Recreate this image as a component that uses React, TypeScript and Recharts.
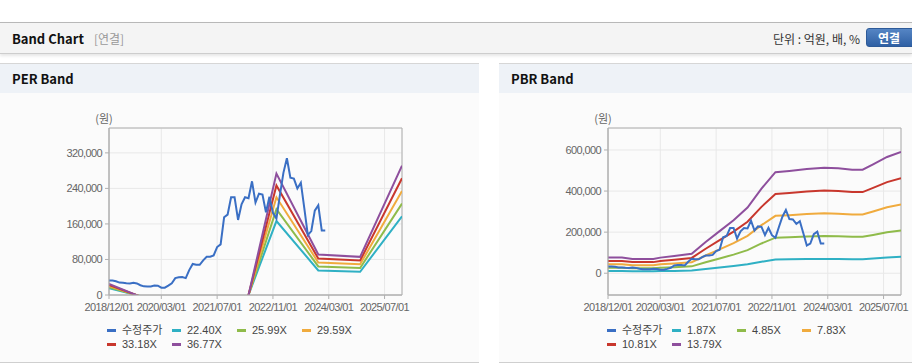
import React from 'react';
import { LineChart, Line, XAxis, YAxis, CartesianGrid, ReferenceArea } from 'recharts';

// ---------- data ----------
const priceStart = '2018/12';
const priceValues = [
  32600, 32600, 31000, 28000, 27400, 26500, 26000, 27500, 26000, 22000,
  19500, 19300, 19300, 21500, 21000, 16500, 16500, 21000, 26500, 38000,
  40000, 40500, 38000, 56000, 70000, 68000, 68000, 78000, 86000, 86000,
  89000, 108000, 114000, 175000, 181000, 220000, 220000, 169000, 204000, 220000,
  218000, 256000, 208000, 228000, 226000, 186000, 221000, 185000, 172000, 225000,
  275000, 308000, 264000, 262000, 240000, 253000, 195000, 135000, 144000, 190000,
  202000, 145000, 145000,
];

const perBandMonths = ['2018/12', '2019/12', '2020/12', '2021/12', '2022/12', '2023/12', '2024/12', '2025/12'];
const perLabels = ['22.40X', '25.99X', '29.59X', '33.18X', '36.77X'];
const per2240 = [15300, -8300, -33600, -83200, 166500, 55400, 52300, 177300];
const per2599 = [17800, -9600, -39000, -96600, 193200, 64300, 60700, 205800];
const per2959 = [20300, -10900, -44400, -110000, 219900, 73200, 69100, 234300];
const per3318 = [22700, -12300, -49800, -123300, 246600, 82100, 77500, 262700];
const per3677 = [25200, -13600, -55200, -136600, 273300, 91000, 85900, 291100];

const pbrBandMonths = [
  '2018/12', '2019/04', '2019/07', '2020/01', '2020/03', '2020/07', '2020/12', '2021/04',
  '2021/08', '2021/12', '2022/04', '2022/08', '2022/12', '2023/04', '2023/09', '2024/02',
  '2024/06', '2024/10', '2025/01', '2025/04', '2025/08', '2025/12',
];
const pbrLabels = ['1.87X', '4.85X', '7.83X', '10.81X', '13.79X'];
const pbr187 = [10300, 10300, 9400, 9400, 10300, 11400, 12900, 20600, 27800, 35000, 43400, 55900, 66700, 67500, 68700, 69700, 69300, 68300, 68300, 71900, 76800, 80000];
const pbr485 = [26700, 26700, 24300, 24300, 26700, 29500, 33400, 53500, 72100, 90700, 112500, 144900, 173000, 175100, 178300, 180800, 179700, 177300, 177300, 186400, 199100, 207500];
const pbr783 = [43200, 43200, 39200, 39200, 43200, 47700, 53900, 86300, 116400, 146500, 181700, 233900, 279400, 282800, 287900, 291800, 290100, 286200, 286200, 300900, 321400, 335000];
const pbr1081 = [59600, 59600, 54100, 54100, 59600, 65800, 74500, 119200, 160700, 202300, 250800, 323000, 385700, 390400, 397400, 402900, 400600, 395100, 395100, 415500, 443700, 462500];
const pbr1379 = [76000, 76000, 69000, 69000, 76000, 84000, 95000, 152000, 205000, 258000, 320000, 412000, 492000, 498000, 507000, 514000, 511000, 504000, 504000, 530000, 566000, 590000];

const xTickDates = ['2018/12/01', '2020/03/01', '2021/07/01', '2022/11/01', '2024/03/01', '2025/07/01'];
const perYTicks = [0, 80000, 160000, 240000, 320000];
const pbrYTicks = [0, 200000, 400000, 600000];
const perYDomain = [0, 376000];
const pbrYDomain = [-106000, 707000];

const priceLabel = '수정주가';
const colors = ['#3a6fc4', '#2fb0c4', '#8fbb4a', '#f0ab3e', '#c8372d', '#8e4f9d'];

// ---------- helpers ----------
const toIndex = (s: string) => {
  const [y, m] = s.split('/').map((t) => parseInt(t, 10));
  return (y - 2018) * 12 + (m - 12);
};
const fromIndex = (i: number) => {
  const y = 2018 + Math.floor((i + 11) / 12);
  const m = ((i + 11) % 12) + 1;
  return `${y}/${m < 10 ? '0' + m : m}/01`;
};
const xTicks = xTickDates.map((d) => toIndex(d.slice(0, 7)));
const fmtNum = (v: number) => String(v).replace(/\B(?=(\d{3})+(?!\d))/g, ',');

const priceData = priceValues.map((v, i) => ({ m: toIndex(priceStart) + i, v }));
const mkSeries = (months: string[], vals: number[]) => months.map((d, i) => ({ m: toIndex(d), v: vals[i] }));

const perSeries = [per2240, per2599, per2959, per3318, per3677].map((a) => mkSeries(perBandMonths, a));
const pbrSeries = [pbr187, pbr485, pbr783, pbr1081, pbr1379].map((a) => mkSeries(pbrBandMonths, a));

const tickFont = "'Liberation Sans', Arial, sans-serif";
const uiFont = "'Noto Sans CJK KR', 'Noto Sans', sans-serif";
const tickStyle = { fontSize: 11, fill: '#666', fontFamily: tickFont, letterSpacing: '-0.6px' };

function Band({ left, series, yDomain, yTicks }: any) {
  return (
    <div style={{ position: 'absolute', left, top: 100 }}>
      <LineChart width={431} height={215} margin={{ top: 28, right: 29, bottom: 0, left: 49 }}>
        <CartesianGrid stroke="#e8e8e8" strokeWidth={1} />
        <XAxis
          type="number"
          dataKey="m"
          domain={[0, 84]}
          ticks={xTicks}
          interval={0}
          allowDataOverflow
          height={20}
          tickFormatter={fromIndex}
          tickSize={4}
          tickMargin={4}
          tick={tickStyle}
          tickLine={{ stroke: '#b0b0b0' }}
          axisLine={{ stroke: '#b0b0b0' }}
        />
        <YAxis
          type="number"
          domain={yDomain}
          ticks={yTicks}
          interval={0}
          allowDataOverflow
          width={60}
          tickFormatter={fmtNum}
          tickSize={4}
          tickMargin={3}
          tick={tickStyle}
          tickLine={{ stroke: '#b0b0b0' }}
          axisLine={{ stroke: '#b0b0b0' }}
        />
        <ReferenceArea x1={0} x2={84} y1={yDomain[0]} y2={yDomain[1]} fill="none" fillOpacity={0} stroke="#b0b0b0" strokeWidth={1} ifOverflow="visible" />
        {series.map((d: any, i: number) => (
          <Line key={i} data={d} dataKey="v" type="linear" stroke={colors[i + 1]} strokeWidth={2} dot={false} activeDot={false} isAnimationActive={false} />
        ))}
        <Line data={priceData} dataKey="v" type="linear" stroke={colors[0]} strokeWidth={2} dot={false} activeDot={false} isAnimationActive={false} />
      </LineChart>
    </div>
  );
}

function LegendBox({ left, labels }: { left: number; labels: string[] }) {
  const items = [priceLabel, ...labels];
  return (
    <div style={{ position: 'absolute', left, top: 323, width: 264, display: 'flex', flexWrap: 'wrap' }}>
      {items.map((t, i) => (
        <div key={t} style={{ width: 65, height: 14, display: 'flex', alignItems: 'center' }}>
          <span style={{ display: 'inline-block', width: 9, height: 3, background: colors[i], marginRight: 6 }} />
          <span style={{ fontSize: 11, color: '#444', fontFamily: "'Liberation Sans', 'Noto Sans CJK KR', sans-serif", lineHeight: '14px', whiteSpace: 'nowrap' }}>{t}</span>
        </div>
      ))}
    </div>
  );
}

function Panel({ left, width, title }: { left: number; width: number; title: string }) {
  return (
    <div style={{ position: 'absolute', left, top: 63, width, height: 298, background: '#fbfbfb', borderTop: '1px solid #d6d6d6', borderBottom: '1px solid #cfcfcf' }}>
      <div style={{ height: 29, background: '#eef2f7', display: 'flex', alignItems: 'center', paddingLeft: 12 }}>
        <span style={{ fontSize: 13, fontWeight: 700, color: '#111', fontFamily: uiFont }}>{title}</span>
      </div>
    </div>
  );
}

export default function App() {
  return (
    <div style={{ position: 'absolute', left: 0, top: 0, width: 912, height: 364, background: '#fff', overflow: 'hidden', fontFamily: uiFont }}>
      <div style={{ position: 'absolute', left: 0, top: 22, width: 912, height: 30, background: '#f4f4f4', borderTop: '1px solid #b8b8b8', borderBottom: '1px solid #cdcdcd', boxShadow: '0 2px 3px rgba(0,0,0,0.10)' }}>
        <div style={{ position: 'absolute', left: 12, top: 0, height: 30, display: 'flex', alignItems: 'center' }}>
          <span style={{ fontSize: 13, fontWeight: 700, color: '#111' }}>Band Chart</span>
          <span style={{ fontSize: 12, color: '#999', marginLeft: 10 }}>[연결]</span>
        </div>
        <div style={{ position: 'absolute', right: 52, top: 0, height: 30, display: 'flex', alignItems: 'center', fontSize: 12, color: '#333' }}>단위 : 억원, 배, %</div>
        <div style={{ position: 'absolute', left: 866, top: 5, width: 50, height: 19, borderRadius: 3, background: 'linear-gradient(#5585c4, #2f60a4)', border: '1px solid #2d5a98', color: '#fff', fontSize: 12, fontWeight: 700, display: 'flex', alignItems: 'center', justifyContent: 'center', paddingRight: 4, boxSizing: 'border-box' }}>연결</div>
      </div>

      <Panel left={0} width={479} title="PER Band" />
      <Panel left={499} width={413} title="PBR Band" />

      <div style={{ position: 'absolute', left: 91, top: 110, width: 26, textAlign: 'center', fontSize: 11, color: '#666' }}>(원)</div>
      <div style={{ position: 'absolute', left: 590, top: 110, width: 26, textAlign: 'center', fontSize: 11, color: '#666' }}>(원)</div>

      <Band left={0} series={perSeries} yDomain={perYDomain} yTicks={perYTicks} />
      <Band left={499} series={pbrSeries} yDomain={pbrYDomain} yTicks={pbrYTicks} />

      <LegendBox left={107} labels={perLabels} />
      <LegendBox left={607} labels={pbrLabels} />
    </div>
  );
}
